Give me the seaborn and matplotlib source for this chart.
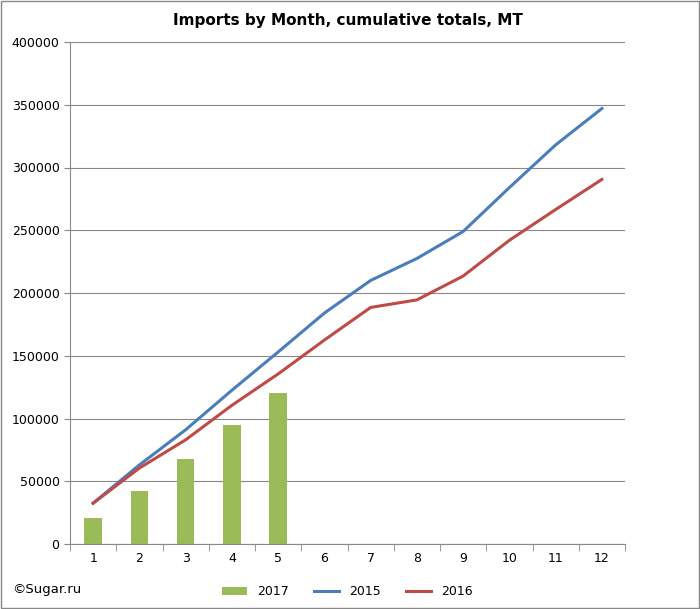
import matplotlib
matplotlib.use("Agg")
import matplotlib.pyplot as plt
import seaborn as sns
import pandas as pd

months = list(range(1, 13))
bars_2017 = [21000, 42500, 68000, 95000, 120000]
line_2015 = [32500, 63000, 91000, 122500, 153000, 184000, 210000, 227500, 249000, 284000, 318000, 347000]
line_2016 = [32500, 60500, 83000, 110500, 135500, 162500, 188500, 194500, 213500, 242000, 266500, 290500]

fig = plt.figure(figsize=(7, 6.09), dpi=100)
ax = fig.add_axes([70/700, 1-544/609, 555/700, 502/609])
x = [m - 1 for m in months]
bdf = pd.DataFrame({"m": x[:5], "v": bars_2017})
ax.bar(bdf["m"], bdf["v"], width=0.38, color="#9BBB59", label="2017", zorder=2)
sns.lineplot(x=x, y=line_2015, ax=ax, color="#4A7EBB", linewidth=2.2, label="2015", zorder=3)
sns.lineplot(x=x, y=line_2016, ax=ax, color="#BE4B48", linewidth=2.2, label="2016", zorder=3)
ax.set_xlim(-0.5, 11.5)
ax.set_ylim(0, 400000)
ax.set_yticks(range(0, 400001, 50000))
ax.set_xticks(x)
ax.set_xticklabels([str(m) for m in months])
ax.set_xticks([i - 0.5 for i in range(13)], minor=True)
ax.tick_params(axis="x", which="major", length=0)
ax.tick_params(axis="x", which="minor", length=5, color="#888888")
ax.yaxis.grid(True, color="#888888", linewidth=0.8, zorder=0)
ax.set_axisbelow(True)
for s in ["top", "right"]:
    ax.spines[s].set_visible(False)
ax.spines["left"].set_color("#888888")
ax.spines["bottom"].set_color("#888888")
ax.tick_params(axis="y", labelsize=9, length=4, color="#888888")
ax.tick_params(axis="x", labelsize=9, pad=6)
ax.set_title("Imports by Month, cumulative totals, MT", fontsize=11, fontweight="bold", pad=12)
h, l = ax.get_legend_handles_labels()
order = [l.index("2017"), l.index("2015"), l.index("2016")]
ax.legend([h[i] for i in order], [l[i] for i in order], loc="upper center",
          bbox_to_anchor=(0.5, -0.06), ncol=3, frameon=False, fontsize=9)
fig.text(12/700, 1-590/609, "©Sugar.ru", fontsize=9.5, va="center")
fig.patches.append(plt.Rectangle((0.002, 0.002), 0.996, 0.996, transform=fig.transFigure, fill=False, edgecolor="#888888", linewidth=1))
fig.savefig("out.png", dpi=100)
